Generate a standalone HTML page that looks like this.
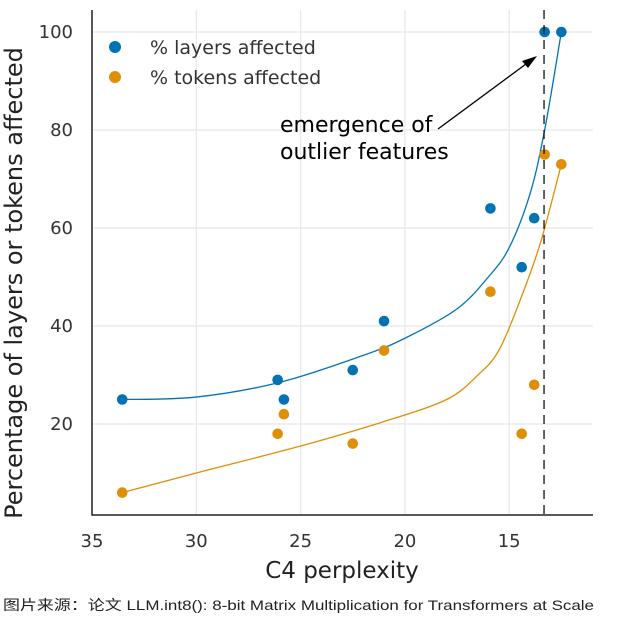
<!DOCTYPE html>
<html><head><meta charset="utf-8"><style>
body{margin:0;background:#fff;width:641px;height:621px;overflow:hidden}
svg{display:block;font-family:"DejaVu Sans","Liberation Sans",sans-serif}
</style></head><body>
<svg id="c" width="641" height="621"></svg>
<script>
const xTicks=[35,30,25,20,15];
const yTicks=[20,40,60,80,100];
const ppl=[33.55,26.1,25.8,22.5,21,15.9,14.4,13.8,13.3,12.5];
const layers=[25,29,25,31,41,64,52,62,100,100];
const tokens=[6,18,22,16,35,47,18,28,75,73];
const fitX=[33.55,30,26,22,20,17.5,16,15,14,13.3,12.5];
const fitLayers=[25,25.5,28.5,34,37.5,43.5,50,56,67,80,100];
const fitTokX=[33.55,30,25,21,18,16.5,15.5,14.5,13.5,12.5];
const fitTokens=[6,10,15.5,20.5,25,30,35,45,57,73];
const emergence=13.33;
const NS="http://www.w3.org/2000/svg";
const svg=document.getElementById('c');
const X=v=>92+(35-v)*20.86, Y=v=>32+(100-v)*4.9;
function el(t,a,p){const e=document.createElementNS(NS,t);for(const k in a)e.setAttribute(k,a[k]);(p||svg).appendChild(e);return e;}
xTicks.forEach(v=>{
const g=el('line',{x1:X(v),x2:X(v),y1:10,y2:515,stroke:'#e8e8ee','stroke-width':1.3});


const t=el('text',{x:X(v),y:547,'text-anchor':'middle','font-size':18,fill:'#333'});t.textContent=v;


});
yTicks.forEach(v=>{
const g=el('line',{x1:92,x2:593,y1:Y(v),y2:Y(v),stroke:'#e8e8ee','stroke-width':1.3});


const t=el('text',{x:73,y:Y(v)+6,'text-anchor':'end','font-size':18,fill:'#333'});t.textContent=v;


});
const ax=el('path',{d:'M92 10V515H593',fill:'none',stroke:'#222','stroke-width':1.5});


function smooth(pts){let d='M'+pts[0][0]+' '+pts[0][1];
for(let i=0;i<pts.length-1;i++){const p0=pts[i-1]||pts[i],p1=pts[i],p2=pts[i+1],p3=pts[i+2]||p2;
d+='C'+(p1[0]+(p2[0]-p0[0])/6)+' '+(p1[1]+(p2[1]-p0[1])/6)+' '+(p2[0]-(p3[0]-p1[0])/6)+' '+(p2[1]-(p3[1]-p1[1])/6)+' '+p2[0]+' '+p2[1];}
return d;}
function curve(xs,ys,c,name){const p=el('path',{d:smooth(xs.map((x,i)=>[X(x),Y(ys[i])])),fill:'none',stroke:c,'stroke-width':1.3,'stroke-linejoin':'round'});

}
curve(fitX,fitLayers,'#0173b2','layers-fit-curve');
curve(fitTokX,fitTokens,'#de8f05','tokens-fit-curve');
ppl.forEach((x,i)=>{
const a=el('circle',{cx:X(x),cy:Y(layers[i]),r:5.3,fill:'#0173b2'});


const b=el('circle',{cx:X(x),cy:Y(tokens[i]),r:5.3,fill:'#de8f05'});


});
const d=el('line',{x1:X(emergence),x2:X(emergence),y1:10,y2:515,stroke:'#111','stroke-width':1.3,'stroke-dasharray':'9 6'});


[[47,'#0173b2','% layers affected'],[77,'#de8f05','% tokens affected']].forEach(([y,c,s])=>{
const m=el('circle',{cx:115,cy:y,r:6,fill:c});


const t=el('text',{x:150,y:y+7,'font-size':19,fill:'#333'});t.textContent=s;


});
const ar=el('path',{d:'M438 129L530 61',stroke:'#000','stroke-width':1.3,fill:'none'});


const ah=el('path',{d:'M537 56L522 61L528 68Z',fill:'#000'});


[['emergence of',132],['outlier features',159]].forEach(([s,y])=>{
const t=el('text',{x:280,y:y,'font-size':22,fill:'#000'});t.textContent=s;


});
const xl=el('text',{x:342,y:578,'text-anchor':'middle','font-size':23,fill:'#222'});xl.textContent='C4 perplexity';


const yl=el('text',{x:0,y:0,'text-anchor':'middle','font-size':24,fill:'#222',transform:'translate(22 283) rotate(-90)'});yl.textContent='Percentage of layers or tokens affected';


const cap=el('text',{x:3,y:610,'font-size':14,fill:'#222',textLength:591,lengthAdjust:'spacingAndGlyphs',style:'font-family:"Liberation Sans","Noto Sans CJK SC",sans-serif'});
cap.textContent='图片来源：论文 LLM.int8(): 8-bit Matrix Multiplication for Transformers at Scale';


</script>
</body></html>
